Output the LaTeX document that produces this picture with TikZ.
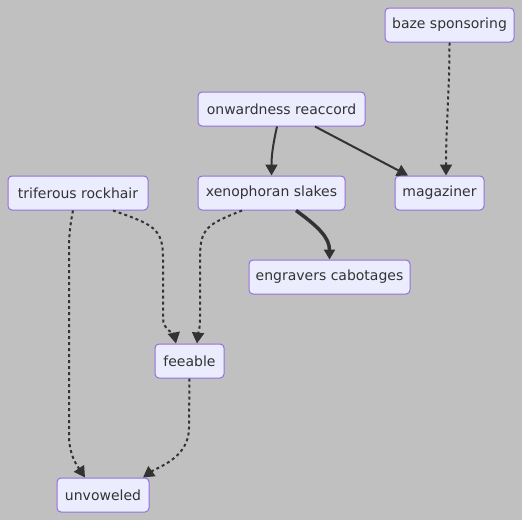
\documentclass[tikz,border=0pt]{standalone}
\usepackage{fontspec}
\setmainfont{DejaVu Sans}
\usetikzlibrary{arrows.meta}
\definecolor{bg}{RGB}{192,192,192}
\definecolor{nodefill}{HTML}{ECECFF}
\definecolor{nodeborder}{HTML}{9370DB}
\definecolor{ink}{HTML}{333333}
\tikzset{
  box/.style={draw=nodeborder, fill=nodefill, line width=1pt, rounded corners=4pt,
    minimum height=34pt, inner xsep=0pt, text=ink,
    font=\fontsize{14pt}{16pt}\selectfont},
  link/.style={draw=ink, line width=2pt, -{Triangle[length=11pt,width=12pt]}},
  dotlink/.style={link, dash pattern=on 3pt off 3pt},
  thicklink/.style={link, line width=3.5pt, -{Triangle[length=10pt,width=11pt]}}
}
\begin{document}
\begin{tikzpicture}[x=1pt,y=-1pt]
\fill[bg] (0,0) rectangle (522,520);
\useasboundingbox (0,0) rectangle (522,520);
\node[box, minimum width=129pt] (baze) at (449.5,25) {baze sponsoring};
\node[box, minimum width=167pt] (onw) at (281.5,109) {onwardness reaccord};
\node[box, minimum width=140pt] (trif) at (78,193) {triferous rockhair};
\node[box, minimum width=147pt] (xeno) at (271.5,193) {xenophoran slakes};
\node[box, minimum width=89pt] (mag) at (439.5,193) {magaziner};
\node[box, minimum width=161pt] (engr) at (329.5,277) {engravers cabotages};
\node[box, minimum width=69pt] (feeb) at (189.5,361) {feeable};
\node[box, minimum width=92pt] (unv) at (103,495) {unvoweled};

\draw[dotlink] (baze.south) .. controls +(0,50) and +(0,-50) .. ([xshift=6.5pt]mag.north);
\draw[link] ([xshift=-4.5pt]onw.south) .. controls +(-4,18) and +(0,-20) .. (xeno.north);
\draw[link] ([xshift=33.5pt]onw.south) -- ([xshift=-31.5pt]mag.north);
\draw[thicklink] ([xshift=24.5pt]xeno.south) .. controls +(22,16) and +(0,-22) .. (engr.north);
\draw[dotlink] ([xshift=35pt]trif.south) .. controls +(40,14) and +(0,-30) .. (163,258) -- (163,318) .. controls +(0,12) and +(-2,-10) .. ([xshift=-13.5pt]feeb.north);
\draw[dotlink] ([xshift=-29.5pt]xeno.south) .. controls +(-35,14) and +(0,-30) .. (200,258) -- (200,318) .. controls +(0,12) and +(1,-10) .. ([xshift=7.5pt]feeb.north);
\draw[dotlink] ([xshift=-5pt]trif.south) .. controls +(-4,20) and +(0,-20) .. (69,260) -- (69,435) .. controls +(0,20) and +(-8,-12) .. ([xshift=-18pt]unv.north);
\draw[dotlink] (feeb.south) -- (189,428) .. controls +(0,30) and +(14,-10) .. ([xshift=40pt]unv.north);
\end{tikzpicture}
\end{document}
